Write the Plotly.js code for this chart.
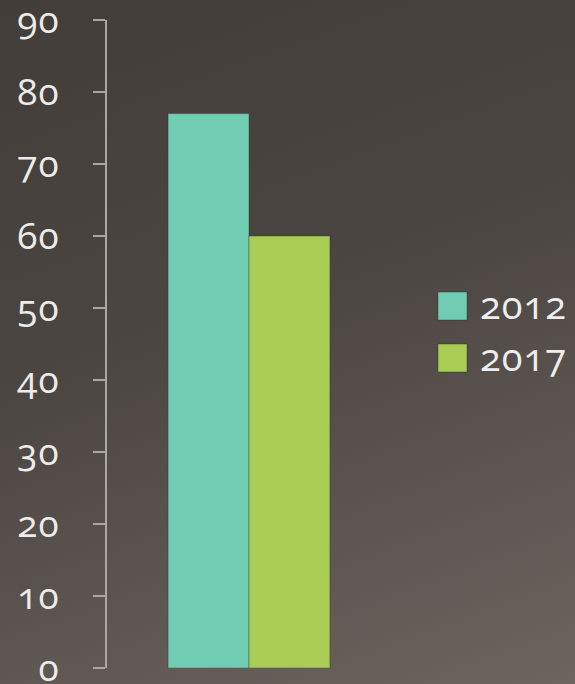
<!DOCTYPE html>
<html>
<head>
<meta charset="utf-8">
<script src="https://cdn.plot.ly/plotly-3.0.1.min.js"></script>
<style>
html, body { margin:0; padding:0; width:575px; height:684px; overflow:hidden;
  background: linear-gradient(160deg, #423d39 0%, #4c4642 45%, #5e5652 75%, #6d6460 100%); }
#chart { width:575px; height:684px; }
#chart svg text { font-feature-settings: "onum" 1; font-variant-numeric: oldstyle-nums; letter-spacing: 1px; }
</style>
</head>
<body>
<div id="chart"></div>
<script>
// Data
const categories = [""];
const seriesNames = ["2012", "2017"];
const values2012 = [77];
const values2017 = [60];
const seriesColors = ["#70ccb2", "#a9cc55"];
const yTickVals = [0, 10, 20, 30, 40, 50, 60, 70, 80, 90];

const W = 575, H = 684;
const M = {l: 107, r: 184, t: 20, b: 16};
const pw = W - M.l - M.r, ph = H - M.t - M.b;
const px = x => (x - M.l) / pw;
const py = y => (H - M.b - y) / ph;

const FONT = '"Open Sans", "Noto Sans", Lato, sans-serif';

const seriesValues = [values2012, values2017];
const traces = seriesNames.map((name, i) => ({
  type: 'bar', name: name, x: categories, y: seriesValues[i],
  marker: {color: seriesColors[i], line: {color: 'rgba(40,40,30,0.35)', width: 1}},
  hoverinfo: 'y+name'
}));

// custom legend (large swatches)
const shapes = [], annotations = [];
const legendTops = [292, 344];
seriesNames.forEach((name, i) => {
  const top = legendTops[i];
  shapes.push({type: 'rect', xref: 'paper', yref: 'paper',
    x0: px(438), x1: px(467), y0: py(top + 28), y1: py(top),
    fillcolor: seriesColors[i], line: {color: 'rgba(30,30,30,0.35)', width: 1}});
  annotations.push({xref: 'paper', yref: 'paper', x: px(478), y: py(top + 12),
    xanchor: 'left', yanchor: 'middle', showarrow: false, text: name,
    font: {family: FONT, size: 38, color: '#eeeeee'}});
});

const layout = {
  width: W, height: H,
  margin: M,
  paper_bgcolor: 'rgba(0,0,0,0)', plot_bgcolor: 'rgba(0,0,0,0)',
  showlegend: false,
  barmode: 'group', bargap: 0.43, bargroupgap: 0,
  xaxis: {visible: false, range: [-0.5, 0.5], fixedrange: true},
  yaxis: {range: [0, 90], tickvals: yTickVals, ticktext: yTickVals.map(String),
    showgrid: false, zeroline: false, showline: true, linecolor: '#a9a6a3', linewidth: 2,
    ticks: 'outside', ticklen: 12, tickwidth: 2, tickcolor: '#a9a6a3',
    ticklabelstandoff: 26, ticklabeloverflow: 'allow',
    tickfont: {family: FONT, size: 37, color: '#ececec'},
    fixedrange: true},
  shapes: shapes, annotations: annotations
};

Plotly.newPlot('chart', traces, layout, {displayModeBar: false, staticPlot: true});
</script>
</body>
</html>
